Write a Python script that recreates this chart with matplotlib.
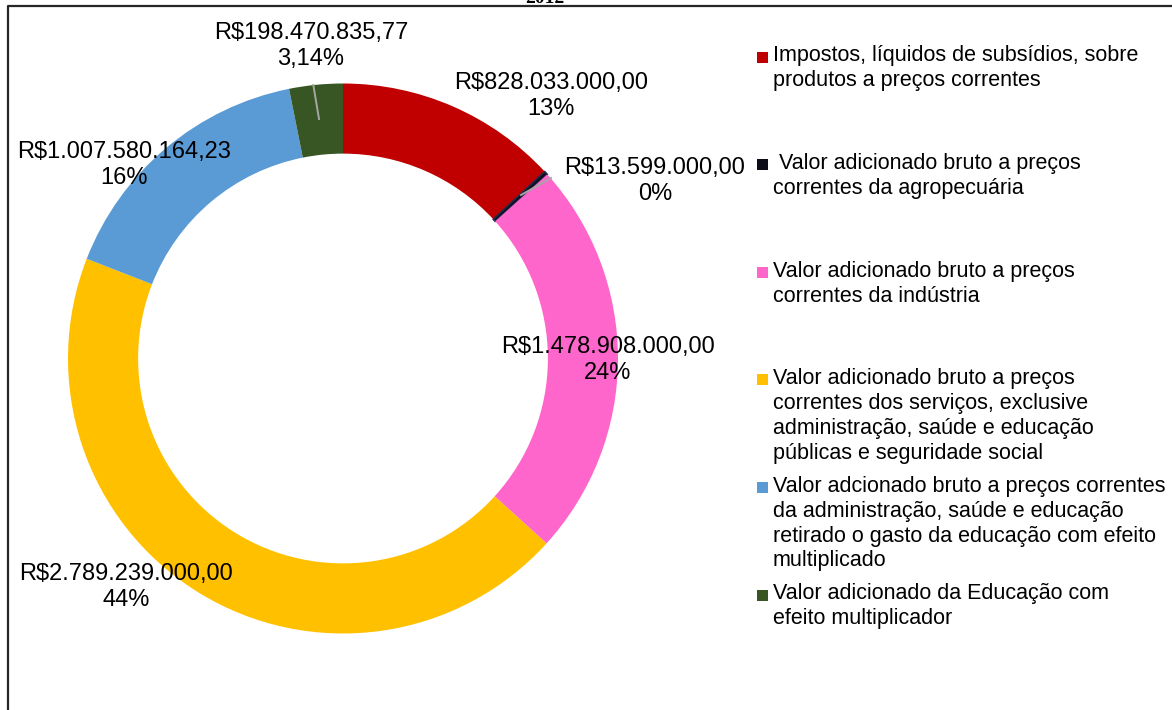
import matplotlib.pyplot as plt
from matplotlib.lines import Line2D
from matplotlib.patches import Rectangle

plt.rcParams['font.family'] = ['Liberation Sans', 'DejaVu Sans']

# DATA
values = [828033000.00, 13599000.00, 1478908000.00, 2789239000.00,
          1007580164.23, 198470835.77]
value_labels = ['R$828.033.000,00\n13%', 'R$13.599.000,00\n0%',
                'R$1.478.908.000,00\n24%', 'R$2.789.239.000,00\n44%',
                'R$1.007.580.164,23\n16%', 'R$198.470.835,77\n3,14%']
legend_labels = [
    'Impostos, líquidos de subsídios, sobre\nprodutos a preços correntes',
    ' Valor adicionado bruto a preços\ncorrentes da agropecuária',
    'Valor adicionado bruto a preços\ncorrentes da indústria',
    'Valor adicionado bruto a preços\ncorrentes dos serviços, exclusive\n'
    'administração, saúde e educação\npúblicas e seguridade social',
    'Valor adcionado bruto a preços correntes\nda administração, saúde e educação\n'
    'retirado o gasto da educação com efeito\nmultiplicado',
    'Valor adicionado da Educação com\nefeito multiplicador',
]
colors = ['#C00000', '#0D0D1A', '#FF66CC', '#FFC000', '#5B9BD5', '#375623']

W, H = 1172, 710
cx, cy, R = 343, 358.5, 275

fig = plt.figure(figsize=(W / 100, H / 100), dpi=100)
ax = fig.add_axes([(cx - R) / W, (H - cy - R) / H, 2 * R / W, 2 * R / H])

wedges, _ = ax.pie(values, colors=colors, startangle=90, counterclock=False,
                   radius=1, wedgeprops=dict(width=0.255, linewidth=0))
wedges[1].set_edgecolor('#1F2A4A')
wedges[1].set_linewidth(1.2)
ax.set_xlim(-1, 1)
ax.set_ylim(-1, 1)
ax.axis('off')


def to_data(px, py):
    return (px - cx) / R, (cy - py) / R


# label positions in pixels (centre of text block)
label_pos = [(551, 96), (655, 181), (608, 360), (126, 587), (124, 165), (311, 46)]
for (px, py), txt in zip(label_pos, value_labels):
    x, y = to_data(px, py)
    ax.text(x, y, txt, ha='center', va='center', fontsize=17,
            linespacing=1.22, color='#000000')

# leader lines
for (x0, y0), (x1, y1) in [((521, 195), (551, 178)), ((319, 119), (311.5, 74))]:
    a, b = to_data(x0, y0)
    c, d = to_data(x1, y1)
    ax.add_line(Line2D([a, c], [b, d], color='#A6A6A6', lw=1.4, zorder=5))

# legend
for i, (lab, col) in enumerate(zip(legend_labels, colors)):
    py = 57 + i * 107.6
    fig.add_artist(Rectangle(((757) / W, (H - py - 5.5) / H), 11 / W, 11 / H,
                             facecolor=col, edgecolor='none',
                             transform=fig.transFigure))
    fig.text(773 / W, (H - py + 11.5) / H, lab, ha='left', va='top',
             fontsize=15.5, linespacing=1.24)

# cut-off title and frame
fig.text(545 / W, (H - 3) / H, '2012', ha='center', va='baseline',
         fontsize=14, fontweight='bold', family='Liberation Serif')
fig.add_artist(Line2D([8 / W, 8 / W, 1.0], [0, (H - 6) / H, (H - 6) / H],
                      color='#262626', lw=1.6, transform=fig.transFigure))

fig.savefig('out.png', dpi=100)
